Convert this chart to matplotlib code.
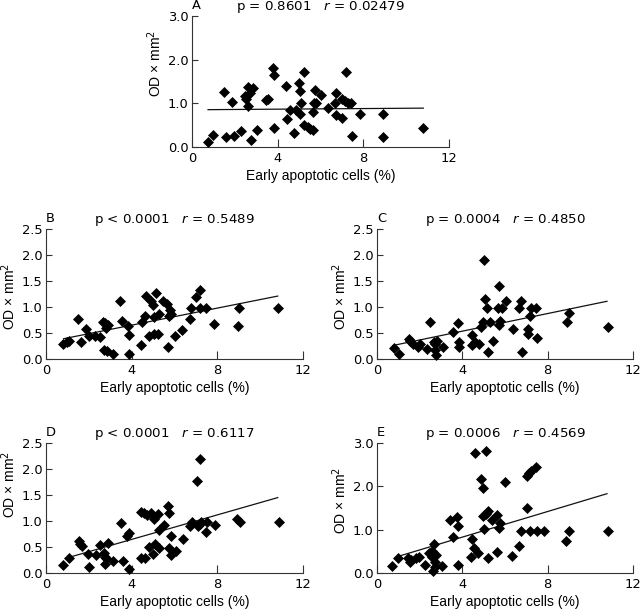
import matplotlib
matplotlib.use("Agg")
import matplotlib.pyplot as plt

# ---------------- data ----------------
x_ticks = [0, 4, 8, 12]

a_x = [0.75, 0.98, 1.48, 1.57, 1.87, 1.95, 2.28, 2.46, 2.54, 2.61, 2.61, 2.69, 2.74, 2.85, 3.05,
       3.44, 3.55, 3.78, 3.81, 3.83, 4.40, 4.45, 4.56, 4.75, 4.87, 4.98, 5.03, 5.03, 5.10, 5.22,
       5.25, 5.42, 5.50, 5.65, 5.65, 5.68, 5.73, 5.78, 6.03, 6.35, 6.68, 6.74, 6.74, 7.02, 7.02,
       7.13, 7.18, 7.28, 7.42, 7.47, 7.83, 8.92, 8.92, 10.79]
a_y = [0.11, 0.27, 1.27, 0.23, 1.03, 0.25, 0.36, 1.16, 1.10, 1.38, 0.93, 1.23, 0.15, 1.34, 0.38,
       1.08, 1.10, 1.80, 1.64, 0.44, 1.40, 0.63, 0.84, 0.32, 0.84, 1.47, 1.29, 0.76, 1.00, 0.50,
       1.72, 0.46, 0.42, 0.38, 0.80, 1.00, 1.31, 1.00, 1.19, 0.90, 1.00, 1.24, 0.73, 0.66, 1.10,
       1.05, 1.72, 1.00, 1.00, 0.25, 0.76, 0.76, 0.23, 0.44]
a_fit_x = [0.75, 10.8]
a_fit_y = [0.855, 0.89]

b_x = [0.79, 0.98, 1.06, 1.51, 1.65, 1.88, 1.99, 2.27, 2.54, 2.66, 2.69, 2.77, 2.82, 2.85, 2.89,
       3.13, 3.47, 3.56, 3.83, 3.86, 3.86, 4.44, 4.48, 4.60, 4.69, 4.79, 4.92, 5.00, 5.06, 5.06,
       5.15, 5.26, 5.23, 5.45, 5.65, 5.70, 5.73, 5.81, 5.85, 6.00, 6.37, 6.71, 6.79, 7.02, 7.21,
       7.21, 7.47, 7.86, 8.95, 9.00, 10.82]
b_y = [0.28, 0.33, 0.34, 0.77, 0.32, 0.58, 0.45, 0.45, 0.42, 0.72, 0.18, 0.69, 0.60, 0.15, 0.66,
       0.10, 1.11, 0.74, 0.63, 0.46, 0.10, 0.26, 0.71, 0.82, 1.22, 0.44, 1.11, 1.04, 0.48, 0.80,
       1.26, 0.87, 0.48, 1.11, 1.06, 0.23, 0.82, 0.94, 0.87, 0.45, 0.56, 0.77, 0.98, 1.19, 1.33,
       0.98, 0.98, 0.68, 0.64, 0.98, 0.98]
b_fit_x = [0.82, 10.82]
b_fit_y = [0.39, 1.21]

c_x = [0.78, 1.01, 1.48, 1.56, 1.68, 1.92, 2.00, 2.34, 2.49, 2.65, 2.73, 2.73, 2.77, 2.80, 3.09,
       3.55, 3.79, 3.86, 3.86, 4.44, 4.44, 4.60, 4.80, 4.88, 4.99, 5.03, 5.07, 5.14, 5.22, 5.30,
       5.42, 5.69, 5.72, 5.73, 5.77, 5.86, 6.05, 6.39, 6.67, 6.75, 6.79, 7.09, 7.09, 7.17, 7.20,
       7.45, 7.48, 8.91, 9.01, 10.83]
c_y = [0.21, 0.10, 0.38, 0.34, 0.29, 0.24, 0.29, 0.19, 0.72, 0.33, 0.29, 0.17, 0.08, 0.34, 0.24,
       0.51, 0.69, 0.33, 0.24, 0.46, 0.26, 0.32, 0.29, 0.62, 0.71, 1.91, 1.15, 0.98, 0.13, 0.72,
       0.34, 0.98, 1.41, 0.66, 0.74, 0.98, 1.12, 0.58, 0.98, 1.12, 0.13, 0.58, 0.48, 0.82, 0.98,
       0.98, 0.40, 0.71, 0.88, 0.62]
c_fit_x = [0.75, 10.78]
c_fit_y = [0.26, 1.11]

d_x = [0.79, 1.06, 1.53, 1.60, 1.68, 1.95, 1.99, 2.35, 2.54, 2.72, 2.74, 2.77, 2.82, 2.88, 3.13,
       3.50, 3.60, 3.78, 3.89, 3.86, 4.45, 4.45, 4.56, 4.64, 4.72, 4.79, 4.92, 5.00, 5.06, 5.11,
       5.23, 5.26, 5.29, 5.50, 5.70, 5.73, 5.73, 5.84, 5.85, 6.07, 6.40, 6.71, 6.82, 7.05, 7.08,
       7.18, 7.21, 7.24, 7.49, 7.52, 7.88, 8.92, 9.04, 10.86]
d_y = [0.15, 0.28, 0.62, 0.56, 0.51, 0.37, 0.12, 0.34, 0.53, 0.38, 0.31, 0.18, 0.28, 0.58, 0.23,
       0.97, 0.23, 0.71, 0.76, 0.07, 1.17, 0.29, 1.15, 0.29, 1.11, 0.50, 1.15, 0.37, 1.03, 0.55,
       1.14, 0.83, 0.48, 0.92, 1.28, 1.15, 0.48, 0.72, 0.34, 0.42, 0.66, 0.90, 0.99, 1.76, 0.90,
       0.94, 2.19, 0.99, 0.79, 0.99, 0.92, 1.03, 0.99, 0.99]
d_fit_x = [0.98, 10.82]
d_fit_y = [0.29, 1.45]

e_x = [0.70, 0.98, 1.45, 1.53, 1.59, 1.84, 1.95, 2.26, 2.42, 2.57, 2.57, 2.62, 2.65, 2.70, 2.74,
       2.77, 3.07, 3.40, 3.54, 3.74, 3.79, 3.82, 4.41, 4.44, 4.55, 4.61, 4.75, 4.86, 4.96, 4.99,
       5.02, 5.10, 5.11, 5.19, 5.19, 5.38, 5.61, 5.64, 5.72, 5.78, 6.00, 6.34, 6.67, 6.75, 7.01,
       7.01, 7.12, 7.17, 7.21, 7.43, 7.51, 7.84, 8.88, 8.98, 10.85]
e_y = [0.16, 0.35, 0.35, 0.25, 0.31, 0.35, 0.37, 0.18, 0.47, 0.51, 0.38, 0.05, 0.66, 0.14, 0.25,
       0.41, 0.16, 1.22, 0.82, 1.29, 1.08, 0.19, 0.37, 0.78, 0.58, 2.77, 0.46, 2.16, 1.97, 1.31,
       1.02, 2.82, 1.37, 1.43, 0.35, 1.22, 1.35, 0.48, 1.04, 1.15, 2.09, 0.39, 0.62, 0.98, 1.51,
       2.25, 2.31, 0.98, 2.35, 2.45, 0.98, 0.98, 0.75, 0.98, 0.98]
e_fit_x = [0.97, 10.78]
e_fit_y = [0.38, 1.83]

panels = [
    ("A", "p = 0.8601   $r$ = 0.02479", a_x, a_y, a_fit_x, a_fit_y, 3.0, [0.0, 1.0, 2.0, 3.0]),
    ("B", "p < 0.0001   $r$ = 0.5489", b_x, b_y, b_fit_x, b_fit_y, 2.5, [0.0, 0.5, 1.0, 1.5, 2.0, 2.5]),
    ("C", "p = 0.0004   $r$ = 0.4850", c_x, c_y, c_fit_x, c_fit_y, 2.5, [0.0, 0.5, 1.0, 1.5, 2.0, 2.5]),
    ("D", "p < 0.0001   $r$ = 0.6117", d_x, d_y, d_fit_x, d_fit_y, 2.5, [0.0, 0.5, 1.0, 1.5, 2.0, 2.5]),
    ("E", "p = 0.0006   $r$ = 0.4569", e_x, e_y, e_fit_x, e_fit_y, 3.0, [0.0, 1.0, 2.0, 3.0]),
]

# ---------------- layout ----------------
W, H = 640, 611
boxes = {  # left, top, right, bottom in pixels
    "A": (192, 16, 449, 147),
    "B": (46, 229, 303, 359),
    "C": (377, 229, 633, 359),
    "D": (46, 443, 303, 573),
    "E": (377, 443, 633, 573),
}
ylabel_y = {"A": 0.64, "B": 0.48, "C": 0.48, "D": 0.68, "E": 0.56}

plt.rcParams['font.family'] = ['DejaVu Sans']
plt.rcParams['mathtext.fontset'] = 'dejavusans'

fig = plt.figure(figsize=(W / 100, H / 100), dpi=100)
axis_col = '#333333'

for letter, title, xs, ys, fx, fy, ymax, yt in panels:
    l, t, r, b = boxes[letter]
    ax = fig.add_axes([l / W, (H - b) / H, (r - l) / W, (b - t) / H])
    ax.plot(xs, ys, linestyle='none', marker='D', markersize=4.7,
            markerfacecolor='black', markeredgecolor='black', markeredgewidth=0.5,
            clip_on=False, zorder=3)
    ax.plot(fx, fy, color='#111111', linewidth=0.9, zorder=2)
    ax.set_xlim(0, 12)
    ax.set_ylim(0, ymax)
    ax.set_xticks(x_ticks)
    ax.set_xticklabels([str(v) for v in x_ticks])
    ax.set_yticks(yt)
    ax.set_yticklabels(["%.1f" % v for v in yt])
    for s in ['top', 'right']:
        ax.spines[s].set_visible(False)
    for s in ['left', 'bottom']:
        ax.spines[s].set_color(axis_col)
        ax.spines[s].set_linewidth(0.8)
    ax.tick_params(axis='x', direction='in', length=5.5, width=0.8, color=axis_col,
                   labelsize=9.4, pad=3.5)
    ax.tick_params(axis='y', direction='in', length=4.5, width=0.8, color=axis_col,
                   labelsize=9.4, pad=2.5)
    ax.set_xlabel("Early apoptotic cells (%)", fontsize=10, family='Liberation Sans', labelpad=3)
    ax.set_ylabel("OD × mm$^2$", fontsize=10, family='Liberation Sans')
    ax.yaxis.set_label_coords(-28 / (r - l), ylabel_y[letter])
    ax.set_title(title, fontsize=9.6, pad=4)
    ax.text(0.0, 1.0 + 4 / (b - t), letter, transform=ax.transAxes, ha='left', va='bottom',
            fontsize=9.4)

fig.savefig("out.png", dpi=100)
